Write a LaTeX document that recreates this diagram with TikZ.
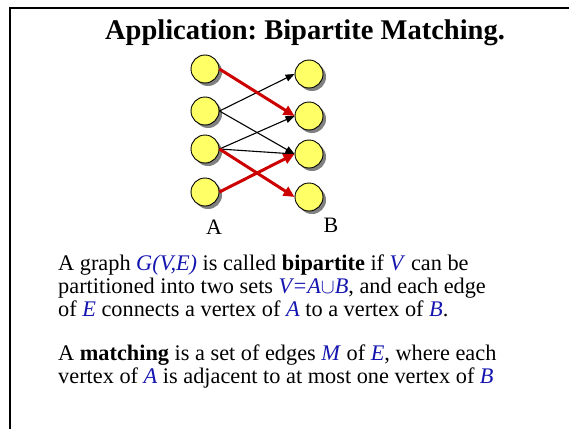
\documentclass[tikz,border=0pt]{standalone}
\usepackage{fontspec}
\setmainfont{Liberation Serif}
\usetikzlibrary{arrows.meta,shadows}
\definecolor{vyellow}{RGB}{255,255,102}
\definecolor{vshadow}{RGB}{128,128,128}
\definecolor{mred}{RGB}{204,0,0}
\definecolor{tblue}{RGB}{20,20,175}
\newcommand{\bl}[1]{\textcolor{tblue}{\itshape #1\/}}
\frenchspacing
\tikzset{
  vtx/.style={circle,draw=black,line width=0.9pt,fill=vyellow,minimum size=28pt,inner sep=0pt,
    drop shadow={shadow xshift=3pt,shadow yshift=-3pt,fill=vshadow,opacity=1,draw=none}},
  medge/.style={draw=mred,line width=3pt,-{Triangle[length=11pt,width=10pt]}},
  nedge/.style={draw=black,line width=1.1pt,-{Triangle[length=9pt,width=7pt]}},
  body/.style={anchor=base west,inner sep=0pt,align=left,font=\fontsize{22.3}{22.7}\selectfont},
  lbl/.style={anchor=base,inner sep=0pt,font=\fontsize{22}{26}\selectfont}
}
\begin{document}
\begin{tikzpicture}[x=1pt,y=-1pt]
\useasboundingbox (0,0) rectangle (569,428);
\begin{scope}
\clip (0,0) rectangle (569,428);
\draw[line width=2pt] (10,440) -- (10,8) -- (580,8);
\end{scope}
\node[anchor=base,inner sep=0pt,font=\fontsize{28.5}{32}\bfseries\selectfont] (title) at (305,40) {Application: Bipartite Matching.};
\node[vtx] (a1) at (205,69) {};
\node[vtx] (a2) at (205,111) {};
\node[vtx] (a3) at (205,149) {};
\node[vtx] (a4) at (205,192) {};
\node[vtx] (b1) at (309,74) {};
\node[vtx] (b2) at (309,116) {};
\node[vtx] (b3) at (309,154) {};
\node[vtx] (b4) at (309,197) {};
\draw[nedge] (a2.east) -- (b1.west);
\draw[nedge] (a2.east) -- (b3.west);
\draw[nedge] (a3.east) -- (b2.west);
\draw[nedge] (a3.east) -- (b3.west);
\draw[medge] (a1.east) -- (b2.west);
\draw[medge] (a3.east) -- (b4.west);
\draw[medge] (a4.east) -- (b3.west);
\node[lbl] (la) at (214,234) {A};
\node[lbl] (lb) at (331,232) {B};
\node[body] (p1) at (58,316) {A graph \bl{G(V,E)} is called \textbf{bipartite} if \bl{V} can be\\
partitioned into two sets \bl{V=A\ensuremath{\cup}B}, and each edge\\
of \bl{E} connects a vertex of \bl{A} to a vertex of \bl{B}.};
\node[body] (p2) at (58,383) {A \textbf{matching} is a set of edges \bl{M} of \bl{E}, where each\\
vertex of \bl{A} is adjacent to at most one vertex of \bl{B}};
\end{tikzpicture}
\end{document}
